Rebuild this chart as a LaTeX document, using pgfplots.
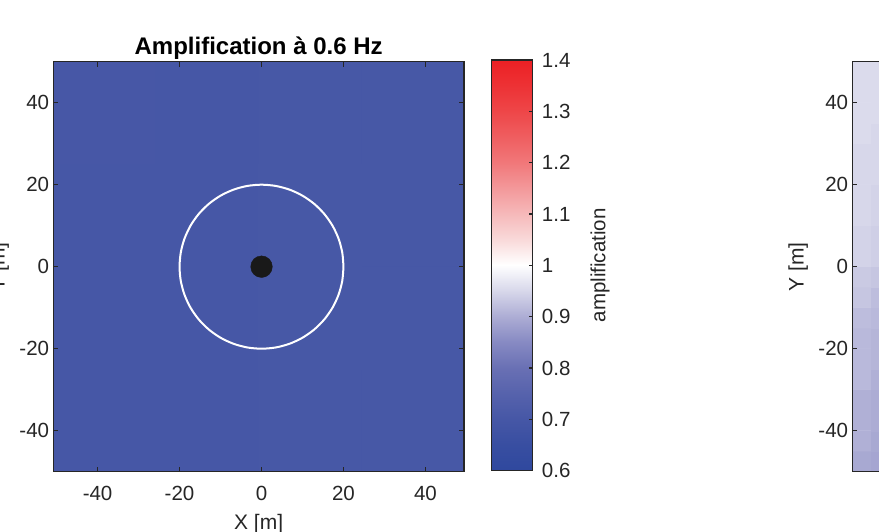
\documentclass[border=0pt]{standalone}
\usepackage{fontspec}
\setmainfont{Liberation Sans}
\usepackage{pgfplots}
\pgfplotsset{compat=1.18}
\definecolor{axiscol}{RGB}{38,38,38}
\pgfplotsset{
  colormap={bwr}{rgb255(0cm)=(47,72,158) rgb255(1cm)=(56,78,161) rgb255(2cm)=(70,87,166) rgb255(3cm)=(86,98,172) rgb255(4cm)=(105,112,180)
    rgb255(5cm)=(135,138,195) rgb255(6cm)=(172,172,212) rgb255(7cm)=(215,215,234)
    rgb255(8cm)=(255,255,255) rgb255(9cm)=(249,218,218) rgb255(10cm)=(246,185,186)
    rgb255(11cm)=(243,152,154) rgb255(12cm)=(241,120,122) rgb255(13cm)=(239,94,96)
    rgb255(14cm)=(238,70,72) rgb255(15cm)=(237,50,53) rgb255(16cm)=(236,32,36)},
  commonstyle/.style={
    scale only axis, tick align=inside,
    axis line style={line width=1.2pt, color=axiscol},
    tick style={line width=1.2pt, color=axiscol},
    /pgf/number format/assume math mode=true,
    ticklabel style={font=\fontsize{20.5}{24}\selectfont, text=axiscol, inner sep=0pt},
    label style={font=\fontsize{21}{25}\selectfont, text=axiscol, inner sep=0pt},
    colormap name=bwr, point meta min=0.6, point meta max=1.4,
    axis on top,
  },
  mapstyle/.style={commonstyle,
    width=410.7pt, height=410pt,
    xmin=-50.8, xmax=49.4, ymin=-50, ymax=50,
    xtick={-40,-20,0,20,40}, ytick={-40,-20,0,20,40},
    major tick length=5pt,
    xticklabel style={anchor=north, yshift=-14.3pt},
    yticklabel style={anchor=east, xshift=-4pt},
    ylabel style={at={(axis description cs:0,0.5)}, anchor=center, yshift=54pt},
  }
}
\pgfplotstableread{
x y c
-38.275 -37.5 0.700
-13.225 -37.5 0.700
11.825 -37.5 0.703
36.875 -37.5 0.703
-38.275 -12.5 0.700
-13.225 -12.5 0.700
11.825 -12.5 0.703
36.875 -12.5 0.703
-38.275 12.5 0.700
-13.225 12.5 0.700
11.825 12.5 0.703
36.875 12.5 0.703
-38.275 37.5 0.702
-13.225 37.5 0.700
11.825 37.5 0.703
36.875 37.5 0.703
}\fieldA
\pgfplotstableread{
x y c
-48.5 -47.5 0.895
-43.7 -47.5 0.890
-38.9 -47.5 0.890
-48.5 -42.5 0.905
-43.7 -42.5 0.895
-38.9 -42.5 0.895
-48.5 -37.5 0.905
-43.7 -37.5 0.900
-38.9 -37.5 0.900
-48.5 -32.5 0.905
-43.7 -32.5 0.900
-38.9 -32.5 0.900
-48.5 -27.5 0.915
-43.7 -27.5 0.905
-38.9 -27.5 0.905
-48.5 -22.5 0.915
-43.7 -22.5 0.910
-38.9 -22.5 0.910
-48.5 -17.5 0.915
-43.7 -17.5 0.910
-38.9 -17.5 0.910
-48.5 -12.5 0.920
-43.7 -12.5 0.915
-38.9 -12.5 0.915
-48.5 -7.5 0.930
-43.7 -7.5 0.920
-38.9 -7.5 0.920
-48.5 -2.5 0.935
-43.7 -2.5 0.930
-38.9 -2.5 0.930
-48.5 2.5 0.945
-43.7 2.5 0.940
-38.9 2.5 0.940
-48.5 7.5 0.945
-43.7 7.5 0.940
-38.9 7.5 0.940
-48.5 12.5 0.950
-43.7 12.5 0.945
-38.9 12.5 0.945
-48.5 17.5 0.950
-43.7 17.5 0.945
-38.9 17.5 0.945
-48.5 22.5 0.950
-43.7 22.5 0.950
-38.9 22.5 0.950
-48.5 27.5 0.950
-43.7 27.5 0.950
-38.9 27.5 0.950
-48.5 32.5 0.955
-43.7 32.5 0.950
-38.9 32.5 0.950
-48.5 37.5 0.955
-43.7 37.5 0.955
-38.9 37.5 0.955
-48.5 42.5 0.955
-43.7 42.5 0.955
-38.9 42.5 0.955
-48.5 47.5 0.955
-43.7 47.5 0.955
-38.9 47.5 0.955
}\fieldB
\pgfplotstableread{
x y
0 0.60
1 0.60
0 0.65
1 0.65
0 0.70
1 0.70
0 0.75
1 0.75
0 0.80
1 0.80
0 0.85
1 0.85
0 0.90
1 0.90
0 0.95
1 0.95
0 1.00
1 1.00
0 1.05
1 1.05
0 1.10
1 1.10
0 1.15
1 1.15
0 1.20
1 1.20
0 1.25
1 1.25
0 1.30
1 1.30
0 1.35
1 1.35
0 1.40
1 1.40
}\cbar
\begin{document}
\begin{tikzpicture}[x=1pt,y=1pt]
\useasboundingbox (0,0) rectangle (879,531);
\clip (0,0) rectangle (879,531);
\begin{axis}[mapstyle, at={(53.3pt,59.3pt)}, anchor=south west,
  axis background/.style={fill={rgb,255:red,70;green,87;blue,166}},
  title={Amplification à 0.6 Hz},
  title style={font=\fontsize{24}{28}\selectfont\bfseries, text=black, inner sep=0pt,
    at={(axis description cs:0.5,1)}, anchor=base, yshift=0.7pt},
  xlabel={X [m]}, ylabel={Y [m]},
  xlabel style={at={(axis description cs:0.5,0)}, anchor=base, yshift=-57.3pt},
]
\addplot[matrix plot*, mesh/cols=4, point meta=explicit, shader=flat corner] table[x=x, y=y, meta=c] {\fieldA};
\addplot[white, line width=2pt, smooth, no markers] coordinates {
(20,0) (19.696,3.473) (18.794,6.840) (17.321,10) (15.321,12.856) (12.856,15.321)
(10,17.321) (6.840,18.794) (3.473,19.696) (0,20) (-3.473,19.696) (-6.840,18.794)
(-10,17.321) (-12.856,15.321) (-15.321,12.856) (-17.321,10) (-18.794,6.840) (-19.696,3.473)
(-20,0) (-19.696,-3.473) (-18.794,-6.840) (-17.321,-10) (-15.321,-12.856) (-12.856,-15.321)
(-10,-17.321) (-6.840,-18.794) (-3.473,-19.696) (0,-20) (3.473,-19.696) (6.840,-18.794)
(10,-17.321) (12.856,-15.321) (15.321,-12.856) (17.321,-10) (18.794,-6.840) (19.696,-3.473)
(20,0)};
\addplot[only marks, mark=*, mark size=10.8pt, color={rgb,255:red,25;green,25;blue,25}] coordinates {(0,0)};
\end{axis}
% colorbar
\begin{axis}[commonstyle, at={(491.7pt,60.3pt)}, anchor=south west,
  width=41pt, height=410.7pt,
  xmin=0, xmax=1, ymin=0.6, ymax=1.4,
  xtick=\empty,
  ytick={0.6,0.7,0.8,0.9,1,1.1,1.2,1.3,1.4},
  ytick pos=right, yticklabel pos=right, major tick length=4pt,
  /pgf/number format/fixed,
  yticklabel style={anchor=west, xshift=9pt},
  ylabel={amplification},
  ylabel style={font=\fontsize{20.5}{24}\selectfont, at={(axis description cs:1,0.5)}, anchor=center, yshift=-67.3pt},
]
\addplot[surf, shader=interp, mesh/cols=2, point meta=y] table[x=x, y=y] {\cbar};
\end{axis}
\begin{axis}[mapstyle, at={(852.3pt,59.3pt)}, anchor=south west, ylabel={Y [m]}]
\addplot[matrix plot*, mesh/cols=3, point meta=explicit, shader=flat corner] table[x=x, y=y, meta=c] {\fieldB};
\end{axis}
\end{tikzpicture}
\end{document}
